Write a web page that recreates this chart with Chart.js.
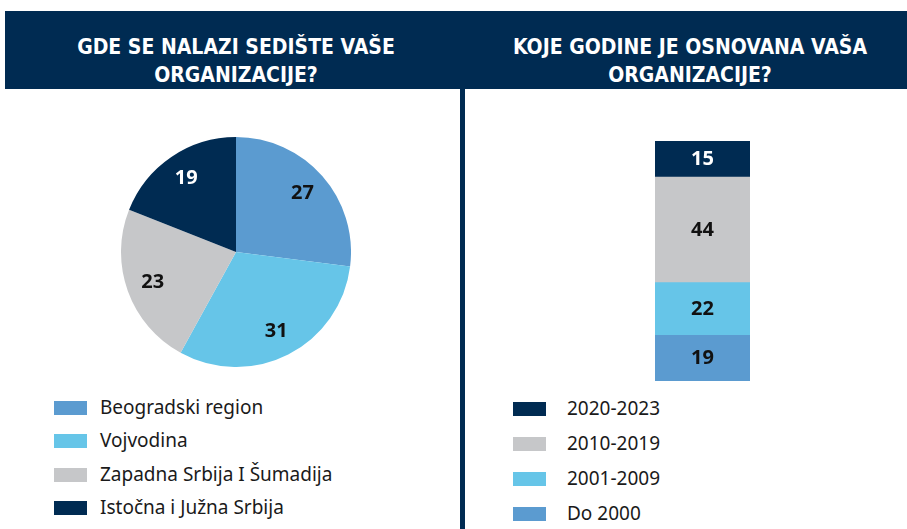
<!DOCTYPE html>
<html>
<head>
<meta charset="utf-8">
<script src="https://cdn.jsdelivr.net/npm/chart.js@4"></script>
<style>
    body { margin: 0; width: 907px; height: 529px; background: #fff; position: relative; overflow: hidden; font-family: "Noto Sans", sans-serif; }
    .band { position: absolute; left: 5px; top: 11px; width: 902px; height: 78px; background: #002b52; }
    .title { position: absolute; top: 33px; width: 420px; color: #fff; text-align: center; font-family: "Liberation Sans Narrow", "DejaVu Sans Condensed", sans-serif; font-weight: bold; font-size: 21px; line-height: 28px; }
    .divider { position: absolute; left: 460px; top: 89px; width: 5px; height: 440px; background: #002b52; }
    .legend { position: absolute; font-size: 19px; color: #1a1a1a; }
    .legend div { position: relative; white-space: nowrap; }
    .legend span.sw { position: absolute; left: 0; width: 33px; height: 14px; }
    canvas { position: absolute; }
</style>
</head>
<body>
<div class="band"></div>
<div class="title" style="left:26px">GDE SE NALAZI SEDIŠTE VAŠE<br>ORGANIZACIJE?</div>
<div class="title" style="left:480px">KOJE GODINE JE OSNOVANA VAŠA<br>ORGANIZACIJE?</div>
<div class="divider"></div>

<canvas id="regionPie" style="left:121px; top:137px; width:230px; height:230px"></canvas>
<canvas id="yearBar" style="left:655px; top:141px; width:95px; height:240px"></canvas>

<div class="legend" id="regionLegend" style="left:54px; top:394px"></div>
<div class="legend" id="yearLegend" style="left:513px; top:395px"></div>

<script>
    // data
    const regionLabels = ['Beogradski region', 'Vojvodina', 'Zapadna Srbija I Šumadija', 'Istočna i Južna Srbija'];
    const regionValues = [27, 31, 23, 19];
    const regionColors = ['#5b9bd0', '#66c5e8', '#c6c7c9', '#002b52'];

    const yearLabels = ['Do 2000', '2001-2009', '2010-2019', '2020-2023'];
    const yearValues = [19, 22, 44, 15];
    const yearColors = ['#5b9bd0', '#66c5e8', '#c6c7c9', '#002b52'];

    const LABEL_FONT = '700 20px "Noto Sans", sans-serif';

    function textColorFor(bg) {
        return bg === '#002b52' ? '#ffffff' : '#111111';
    }

    const pieLabels = {
        id: 'pieLabels',
        afterDraw(chart) {
            const { ctx } = chart;
            const meta = chart.getDatasetMeta(0);
            ctx.save();
            ctx.font = LABEL_FONT;
            ctx.textAlign = 'center';
            ctx.textBaseline = 'middle';
            meta.data.forEach((arc, i) => {
                const angle = (arc.startAngle + arc.endAngle) / 2;
                const r = arc.outerRadius * 0.77;
                ctx.fillStyle = textColorFor(regionColors[i]);
                ctx.fillText(regionValues[i], arc.x + Math.cos(angle) * r, arc.y + Math.sin(angle) * r);
            });
            ctx.restore();
        }
    };

    const barLabels = {
        id: 'barLabels',
        afterDraw(chart) {
            const { ctx } = chart;
            ctx.save();
            ctx.font = LABEL_FONT;
            ctx.textAlign = 'center';
            ctx.textBaseline = 'middle';
            chart.data.datasets.forEach((ds, i) => {
                const bar = chart.getDatasetMeta(i).data[0];
                ctx.fillStyle = textColorFor(ds.backgroundColor);
                ctx.fillText(ds.data[0], bar.x, (bar.y + bar.base) / 2);
            });
            ctx.restore();
        }
    };

    new Chart(document.getElementById('regionPie'), {
        type: 'pie',
        data: {
            labels: regionLabels,
            datasets: [{ data: regionValues, backgroundColor: regionColors, borderWidth: 0 }]
        },
        options: {
            responsive: false,
            animation: false,
            layout: { padding: 0 },
            plugins: { legend: { display: false }, tooltip: { enabled: false } }
        },
        plugins: [pieLabels]
    });

    new Chart(document.getElementById('yearBar'), {
        type: 'bar',
        data: {
            labels: [''],
            datasets: yearLabels.map((lab, i) => ({
                label: lab,
                data: [yearValues[i]],
                backgroundColor: yearColors[i],
                borderWidth: 0,
                categoryPercentage: 1,
                barPercentage: 1
            }))
        },
        options: {
            responsive: false,
            animation: false,
            layout: { padding: 0 },
            scales: {
                x: { stacked: true, display: false },
                y: { stacked: true, display: false, min: 0, max: 100 }
            },
            plugins: { legend: { display: false }, tooltip: { enabled: false } }
        },
        plugins: [barLabels]
    });

    // html legends
    function buildLegend(el, labels, colors, rowH, textX) {
        labels.forEach((lab, i) => {
            const row = document.createElement('div');
            row.style.height = rowH + 'px';
            row.style.lineHeight = '26px';
            row.innerHTML = '<span class="sw" style="top:7px;background:' + colors[i] + '"></span>' +
                '<span style="position:absolute;left:' + textX + 'px">' + lab + '</span>';
            el.appendChild(row);
        });
    }
    buildLegend(document.getElementById('regionLegend'), regionLabels, regionColors, 33.3, 46);
    buildLegend(document.getElementById('yearLegend'),
        yearLabels.slice().reverse(), yearColors.slice().reverse(), 35, 54);
</script>
</body>
</html>
